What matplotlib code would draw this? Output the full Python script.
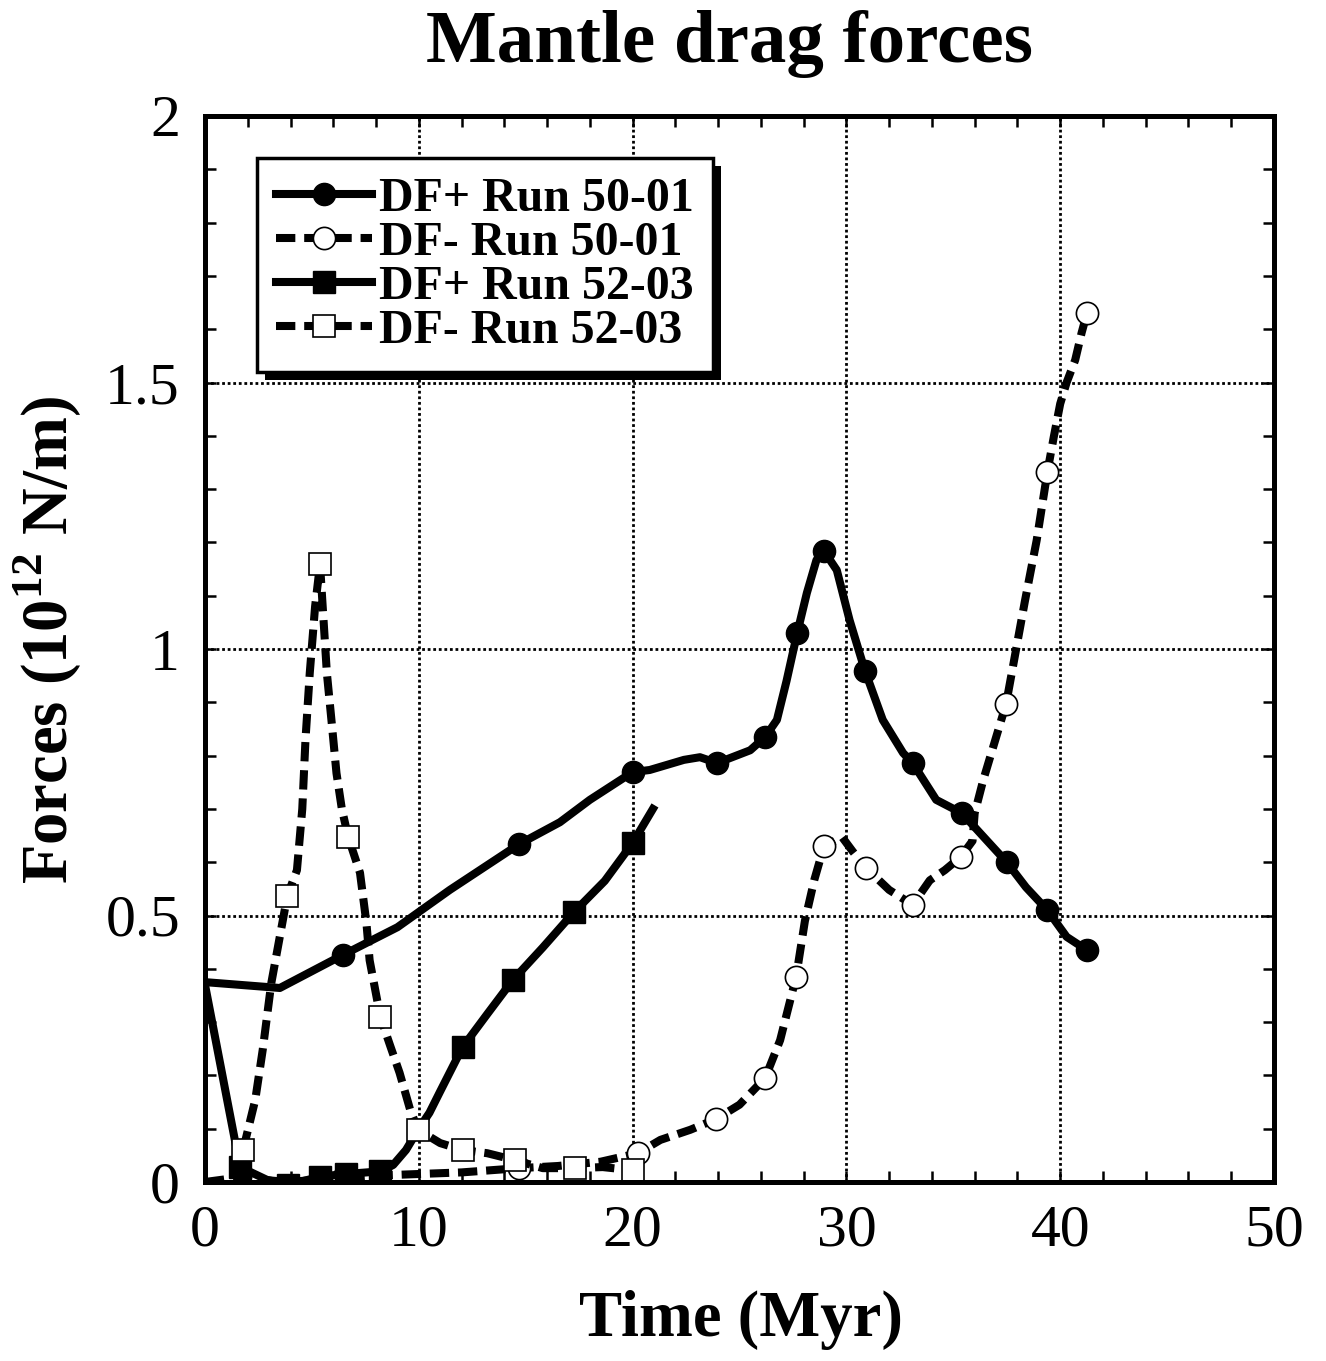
import matplotlib
matplotlib.use('Agg')
import matplotlib.pyplot as plt
from matplotlib.patches import Rectangle
from matplotlib.transforms import IdentityTransform

plt.rcParams['font.family'] = ['Liberation Serif', 'DejaVu Serif']
plt.rcParams['mathtext.fontset'] = 'custom'
plt.rcParams['mathtext.bf'] = 'Liberation Serif:bold'
plt.rcParams['mathtext.rm'] = 'Liberation Serif:bold'

# DF+ Run 50-01 (solid, filled circles)
dfp50_t = [0, 3.5, 6.45, 9.0, 11.45, 14.7, 16.6, 18.0, 20.0, 20.8, 22.4, 23.15, 23.95, 25.5,
           26.2, 26.75, 27.2, 27.7, 28.15, 28.6, 28.95, 29.55, 30.15, 30.87, 31.7, 32.65,
           33.1, 34.2, 35.4, 37.5, 38.4, 39.4, 40.3, 41.25]
dfp50_y = [0.375, 0.364, 0.426, 0.478, 0.548, 0.634, 0.675, 0.717, 0.769, 0.773, 0.792, 0.797,
           0.786, 0.81, 0.835, 0.867, 0.94, 1.03, 1.105, 1.167, 1.184, 1.148, 1.054, 0.959,
           0.867, 0.805, 0.786, 0.717, 0.692, 0.60, 0.553, 0.51, 0.46, 0.435]
dfp50_marks = [6.45, 14.7, 20.0, 23.95, 26.2, 27.7, 28.95, 30.87, 33.1, 35.4, 37.5, 39.4, 41.25]

# DF- Run 50-01 (dashed, open circles)
dfm50_t = [0, 1.5, 3.9, 6.45, 8.0, 10.0, 12.0, 14.7, 16.5, 18.5, 20.25, 21.3, 22.7, 23.9, 25.0,
           26.2, 26.9, 27.65, 28.06, 28.5, 28.95, 29.8, 30.3, 30.9, 32.0, 33.1, 33.9, 34.6,
           35.35, 35.9, 36.0, 36.4, 37.47, 38.35, 38.9, 39.4, 39.7, 40.0, 40.3, 40.7, 41.0, 41.25]
dfm50_y = [0.0, 0.008, 0.0, 0.008, 0.012, 0.015, 0.018, 0.026, 0.03, 0.038, 0.054, 0.079, 0.098,
           0.118, 0.145, 0.195, 0.266, 0.385, 0.49, 0.567, 0.63, 0.647, 0.62, 0.59, 0.548, 0.52,
           0.566, 0.585, 0.61, 0.64, 0.692, 0.754, 0.897, 1.09, 1.204, 1.332, 1.398, 1.46, 1.5,
           1.542, 1.593, 1.63]
dfm50_marks = [6.45, 14.7, 20.25, 23.9, 26.2, 27.65, 28.95, 30.9, 33.1, 35.35, 37.47, 39.4, 41.25]

# DF+ Run 52-03 (solid, filled squares)
dfp52_t = [0, 1.64, 2.9, 3.9, 5.4, 6.6, 8.2, 8.8, 9.4, 10.0, 10.5, 11.0, 12.05, 13.2, 14.4,
           15.8, 17.25, 18.7, 20.0, 20.95]
dfp52_y = [0.37, 0.028, 0.004, -0.005, 0.01, 0.015, 0.02, 0.032, 0.06, 0.1, 0.13, 0.17, 0.253,
           0.315, 0.379, 0.44, 0.506, 0.565, 0.636, 0.70]
dfp52_marks = [1.64, 3.9, 5.4, 6.6, 8.2, 12.05, 14.4, 17.25, 20.0]

# DF- Run 52-03 (dashed, open squares)
dfm52_t = [1.78, 2.35, 2.7, 3.1, 3.85, 4.3, 4.55, 4.7, 4.9, 5.15, 5.38, 5.7, 5.93, 6.15, 6.4,
           6.7, 7.25, 7.55, 7.7, 8.2, 8.65, 9.1, 9.6, 9.97, 11.0, 12.05, 13.2, 14.5, 15.8,
           17.3, 18.6, 20.0]
dfm52_y = [0.06, 0.154, 0.248, 0.373, 0.537, 0.585, 0.70, 0.83, 0.955, 1.08, 1.159, 0.955, 0.86,
           0.767, 0.70, 0.647, 0.58, 0.486, 0.416, 0.31, 0.257, 0.205, 0.135, 0.098, 0.073,
           0.06, 0.054, 0.041, 0.026, 0.026, 0.028, 0.022]
dfm52_marks = [1.78, 3.85, 5.38, 6.7, 8.2, 9.97, 12.05, 14.5, 17.3, 20.0]

labels = ['DF+ Run 50-01', 'DF- Run 50-01', 'DF+ Run 52-03', 'DF- Run 52-03']
x_ticks = [0, 10, 20, 30, 40, 50]
y_ticks = [0, 0.5, 1, 1.5, 2]
y_tick_labels = ['0', '0.5', '1', '1.5', '2']

fig = plt.figure(figsize=(13.26, 13.61), dpi=100)
ax = fig.add_axes([205 / 1326, 1 - 1182 / 1361, (1274 - 205) / 1326, (1182 - 116) / 1361])

lw = 5.8
ms = 16
series = [
    (dfp50_t, dfp50_y, dfp50_marks, '-', 'o', 'black'),
    (dfm50_t, dfm50_y, dfm50_marks, '--', 'o', 'white'),
    (dfp52_t, dfp52_y, dfp52_marks, '-', 's', 'black'),
    (dfm52_t, dfm52_y, dfm52_marks, '--', 's', 'white'),
]
for (t, y, marks, ls, mk, fc), lab in zip(series, labels):
    idx = [t.index(m) for m in marks]
    line, = ax.plot(t, y, ls, color='black', lw=lw, marker=mk, markevery=idx,
                    markersize=ms, markerfacecolor=fc, markeredgecolor='black',
                    markeredgewidth=1.2 if fc == 'white' else 1, label=lab,
                    solid_joinstyle='round', dash_capstyle='butt')
    if ls == '--':
        line.set_dashes((2.4, 1.1))

ax.set_xlim(0, 50)
ax.set_ylim(0, 2)
ax.set_xticks(x_ticks)
ax.set_yticks(y_ticks)
ax.set_yticklabels(y_tick_labels)
ax.set_xticks(range(0, 51, 2), minor=True)
ax.set_yticks([i / 10 for i in range(21)], minor=True)
ax.tick_params(which='both', direction='in', top=True, right=True, length=8, width=1.8,
               labelsize=43)
ax.tick_params(axis='x', which='major', pad=16)
ax.tick_params(axis='y', which='major', pad=18)
ax.grid(True, which='major', color='black', linestyle=(0, (1, 1)), linewidth=2)
for sp in ax.spines.values():
    sp.set_linewidth(3.6)

fig.text(730 / 1326, 1 - 62 / 1361, 'Mantle drag forces', ha='center', va='baseline',
         fontsize=54, fontweight='bold')
fig.text(741 / 1326, 1 - 1336 / 1361, 'Time (Myr)', ha='center', va='baseline',
         fontsize=46.5, fontweight='bold')
fig.text(47 / 1326, 1 - 640 / 1361, r'Forces (10$^{\mathbf{12}}$ N/m)', ha='center',
         va='center', rotation=90, fontsize=46.5, fontweight='bold')

leg = ax.legend(loc='upper left', bbox_to_anchor=(52 / 1069, (1182 - 158) / 1066),
                borderaxespad=0, fancybox=False, framealpha=1, edgecolor='black',
                prop={'weight': 'bold', 'size': 34.5}, handlelength=2.0, handletextpad=0.15,
                labelspacing=0.0, borderpad=0.4)
leg.get_frame().set_linewidth(2.5)
leg.set_zorder(10)

fig.canvas.draw()
bb = leg.get_frame().get_window_extent()
shadow = Rectangle((bb.x0 + 8, bb.y0 - 8), bb.width, bb.height, transform=IdentityTransform(),
                   facecolor='black', edgecolor='none', zorder=9)
ax.add_artist(shadow)

fig.savefig('out.png', dpi=100)
